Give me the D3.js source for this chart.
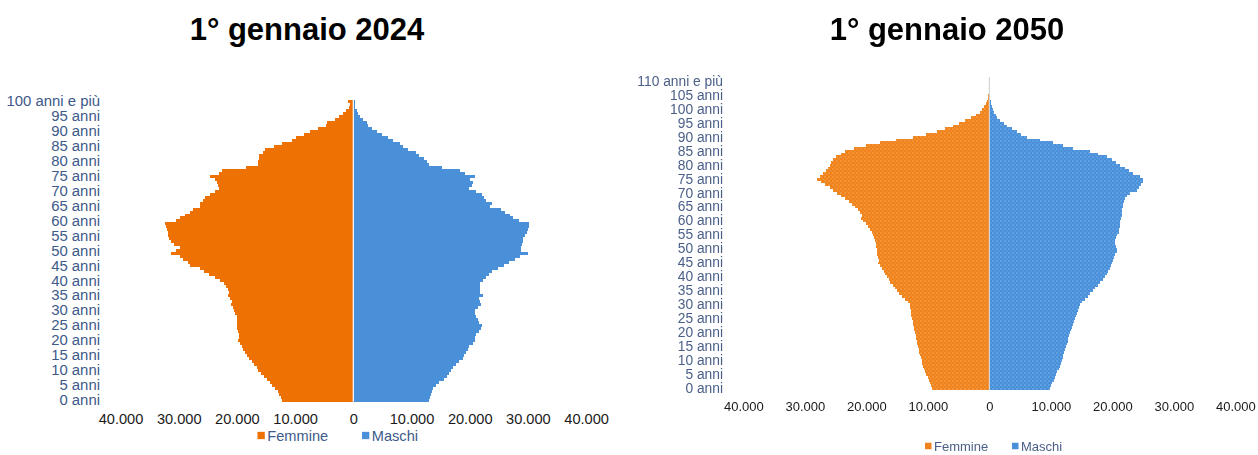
<!DOCTYPE html>
<html>
<head>
<meta charset="utf-8">
<script src="https://cdn.jsdelivr.net/npm/d3@7"></script>
<style>
  html, body { margin: 0; padding: 0; background: #fff; }
  svg { display: block; font-family: "Liberation Sans", Arial, sans-serif; }
</style>
</head>
<body>
<svg id="chart" width="1258" height="455"></svg>
<script>
// Età (categorie) per le due piramidi
const ages2024 = d3.range(0, 101);
const ages2050 = d3.range(0, 111);

// Popolazione residente al 1° gennaio 2024, per età
const femmine2024 = [
  12200, 12400, 12700, 13000, 13400, 13900, 14300, 14800, 15300, 15800,
  16300, 16600, 17000, 17400, 17900, 18200, 18600, 18900, 19200, 19500,
  19800, 19600, 19700, 19800, 20000, 20000, 19900, 19900, 20000, 20300,
  20500, 20700, 21000, 20900, 21200, 21500, 21400, 21600, 21800, 22300,
  22900, 23800, 24800, 25600, 26400, 28000, 28400, 29300, 29800, 31400,
  30500, 29700, 30800, 31400, 31600, 31800, 31900, 32000, 32200, 32400,
  30400, 29700, 29000, 28100, 27500, 26400, 26400, 25800, 25400, 24600,
  23700, 23000, 23300, 23500, 23800, 24700, 23000, 22600, 18400, 16400,
  16400, 16200, 16200, 15600, 15100, 13600, 12300, 10500, 9800, 8500,
  7400, 6100, 4700, 4500, 3100, 2400, 1700, 1250, 800, 600,
  900
];
const maschi2024 = [
  13060, 13230, 13400, 13460, 13630, 14200, 14770, 15630, 16090, 16490,
  16780, 17180, 17640, 18210, 18780, 19070, 19360, 19640, 19930, 20500,
  20960, 20960, 21070, 21650, 21930, 22050, 21650, 21360, 21070, 20960,
  20960, 21360, 21930, 21760, 21530, 22220, 21820, 21820, 21760, 21760,
  22220, 22790, 23360, 23820, 24800, 25940, 26800, 27770, 28630, 29950,
  28800, 28800, 28980, 29200, 29090, 29490, 29840, 29950, 30120, 30240,
  28520, 27370, 26910, 26000, 25370, 23480, 23820, 22790, 22510, 22050,
  21070, 19930, 20330, 20620, 20050, 20960, 19240, 18380, 15230, 13060,
  12600, 12200, 11340, 10770, 9330, 8600, 8020, 6760, 6010, 4870,
  4010, 3150, 2460, 2290, 1600, 1200, 860, 570, 350, 340,
  250
];

// Popolazione prevista al 1° gennaio 2050, per età
const femmine2050 = [
  9400, 9550, 9700, 9850, 10050, 10290, 10450, 10600, 10750, 10880,
  11000, 11130, 11250, 11380, 11500, 11650, 11730, 11820, 11900, 12000,
  12080, 12180, 12280, 12380, 12500, 12620, 12680, 12740, 12800, 12850,
  12890, 13300, 13800, 14200, 14650, 15060, 15400, 15750, 16100, 16400,
  16680, 16950, 17200, 17450, 17800, 18040, 17900, 18100, 18250, 18200,
  18310, 18450, 18400, 18600, 18700, 18860, 19100, 19400, 19700, 20100,
  20490, 20900, 20700, 21000, 21300, 21840, 22300, 22900, 23500, 24100,
  24810, 25400, 26000, 26700, 27400, 28070, 27600, 27000, 26500, 26200,
  25900, 25700, 25400, 24900, 24200, 23400, 22000, 20000, 17800, 15200,
  12500, 10300, 8600, 7200, 6000, 5000, 4000, 3000, 2200, 1600,
  1200, 850, 600, 400, 250, 150, 90, 50, 30, 15,
  5
];
const maschi2050 = [
  9870, 10050, 10250, 10450, 10680, 10850, 11050, 11250, 11450, 11620,
  11770, 11900, 12030, 12150, 12280, 12430, 12560, 12700, 12830, 12960,
  13100, 13250, 13400, 13550, 13700, 13850, 14000, 14210, 14380, 14550,
  14750, 15100, 15600, 16000, 16370, 16800, 17200, 17600, 18000, 18400,
  18800, 19200, 19350, 19550, 19800, 20000, 20160, 20300, 20450, 20710,
  20710, 20600, 20500, 20440, 20600, 20800, 21000, 21100, 21250, 21250,
  21250, 21400, 21530, 21500, 21600, 21700, 21790, 21900, 22100, 22340,
  22800, 23970, 24300, 24700, 25040, 25040, 24500, 23410, 22700, 22000,
  21250, 20600, 20000, 19090, 17700, 16370, 13660, 12000, 10400, 8250,
  6080, 5200, 4450, 3600, 2830, 2300, 1800, 1300, 1000, 800,
  620, 450, 320, 220, 150, 100, 60, 40, 20, 10,
  5
];

// Valori delle etichette dell'asse orizzontale
const xTickValues = [-40000, -30000, -20000, -10000, 0, 10000, 20000, 30000, 40000];
const seriesNames = ["Femmine", "Maschi"];

const itFormat = d3.formatLocale({
  decimal: ",", thousands: ".", grouping: [3], currency: ["", " €"]
}).format(",.0f");

const svg = d3.select("#chart");
const defs = svg.append("defs");

// Trama leggera a quadretti per le barre della proiezione
function checkPattern(id, base, light) {
  const p = defs.append("pattern")
    .attr("id", id).attr("patternUnits", "userSpaceOnUse")
    .attr("width", 4).attr("height", 4);
  p.append("rect").attr("width", 4).attr("height", 4).attr("fill", base);
  p.append("rect").attr("width", 2).attr("height", 2).attr("fill", light).attr("opacity", 0.35);
  p.append("rect").attr("x", 2).attr("y", 2).attr("width", 2).attr("height", 2).attr("fill", light).attr("opacity", 0.2);
  return `url(#${id})`;
}
defs.append("filter").attr("id", "soft")
  .append("feGaussianBlur").attr("stdDeviation", 0.4);

function drawPyramid(cfg) {
  const g = svg.append("g");
  if (cfg.filter) g.attr("filter", cfg.filter);

  const maxAge = d3.max(cfg.ages);
  const x = d3.scaleLinear().domain([-40000, 40000]).range(cfg.xRange);
  const y = d3.scaleBand().domain(cfg.ages.slice().reverse()).range(cfg.yRange).padding(0);

  // Titolo
  g.append("text")
    .attr("x", cfg.titleX).attr("y", cfg.titleY)
    .attr("text-anchor", "middle")
    .attr("font-size", cfg.titleSize).attr("font-weight", "bold")
    .attr("fill", "#000")
    .text(cfg.title);

  // Barre femmine (a sinistra) e maschi (a destra)
  const bars = g.append("g").attr("shape-rendering", "crispEdges");
  bars.selectAll("rect.f").data(cfg.ages).join("rect")
    .attr("class", "f")
    .attr("x", a => x(-cfg.femmine[a]))
    .attr("y", a => y(a))
    .attr("width", a => x(0) - x(-cfg.femmine[a]))
    .attr("height", y.bandwidth())
    .attr("fill", cfg.fill[0]);
  bars.selectAll("rect.m").data(cfg.ages).join("rect")
    .attr("class", "m")
    .attr("x", x(0))
    .attr("y", a => y(a))
    .attr("width", a => x(cfg.maschi[a]) - x(0))
    .attr("height", y.bandwidth())
    .attr("fill", cfg.fill[1]);

  // Linea dello zero
  g.append("line")
    .attr("x1", x(0)).attr("x2", x(0))
    .attr("y1", cfg.yRange[0] - cfg.zeroOver).attr("y2", cfg.yRange[1])
    .attr("stroke", cfg.zeroColor).attr("stroke-width", 1.2);

  // Asse verticale: etichette ogni 5 anni
  const yAxis = g.append("g")
    .attr("transform", `translate(${cfg.yLabelX},0)`)
    .call(d3.axisLeft(y)
      .tickValues(cfg.ages.filter(a => a % 5 === 0))
      .tickFormat(a => a === maxAge ? `${a} anni e più` : `${a} anni`)
      .tickSize(0).tickPadding(0));
  yAxis.select(".domain").remove();
  yAxis.attr("font-family", null).attr("font-size", cfg.yLabelSize);
  yAxis.selectAll("text").attr("fill", cfg.labelColor);

  // Asse orizzontale
  const xAxis = g.append("g")
    .attr("transform", `translate(0,${cfg.xAxisY})`)
    .call(d3.axisBottom(x)
      .tickValues(xTickValues)
      .tickFormat(d => itFormat(Math.abs(d)))
      .tickSize(0).tickPadding(0));
  xAxis.select(".domain").remove();
  xAxis.attr("font-family", null).attr("font-size", cfg.xLabelSize);
  xAxis.selectAll("text").attr("fill", "#1a1a1a");

  // Legenda
  const leg = g.append("g");
  seriesNames.forEach((name, i) => {
    leg.append("rect")
      .attr("x", cfg.legendX[i]).attr("y", cfg.legendY - cfg.legendSq / 2)
      .attr("width", cfg.legendSq).attr("height", cfg.legendSq)
      .attr("fill", cfg.legendFill[i]);
    leg.append("text")
      .attr("x", cfg.legendX[i] + cfg.legendSq + 2.5)
      .attr("y", cfg.legendY).attr("dy", "0.36em")
      .attr("font-size", cfg.legendSize)
      .attr("fill", cfg.labelColor)
      .text(name);
  });
}

drawPyramid({
  title: "1° gennaio 2024", titleX: 307, titleY: 40, titleSize: 31,
  ages: ages2024, femmine: femmine2024, maschi: maschi2024,
  xRange: [120.5, 586.1], yRange: [100, 401.7],
  fill: ["#ee7203", "#4a90d9"], legendFill: ["#ee7203", "#4a90d9"],
  zeroColor: "#ffffff", zeroOver: 0,
  yLabelX: 100, yLabelSize: 14.9, labelColor: "#3d5a8a",
  xAxisY: 413.6, xLabelSize: 14.6,
  legendX: [257.5, 362], legendY: 435.5, legendSq: 7.3, legendSize: 14.6
});

drawPyramid({
  title: "1° gennaio 2050", titleX: 947, titleY: 40, titleSize: 31,
  ages: ages2050, femmine: femmine2050, maschi: maschi2050,
  xRange: [743.4, 1235.4], yRange: [80, 390],
  fill: [checkPattern("texF", "#f0821c", "#f8b469"), checkPattern("texM", "#4a90db", "#8dbaea")],
  legendFill: ["#f0821c", "#4a90db"],
  zeroColor: "#d4d4d4", zeroOver: 3,
  yLabelX: 723, yLabelSize: 13.8, labelColor: "#4a5f88",
  xAxisY: 401.5, xLabelSize: 13,
  legendX: [925, 1012], legendY: 446, legendSq: 6.5, legendSize: 13,
  filter: "url(#soft)"
});
</script>
</body>
</html>
